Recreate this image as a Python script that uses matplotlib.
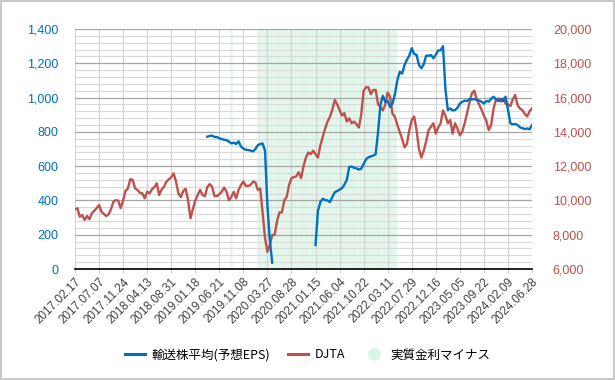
import numpy as np
import matplotlib
matplotlib.use("Agg")
import matplotlib.pyplot as plt
from matplotlib.lines import Line2D
from matplotlib.patches import Rectangle

# ---------------- data ----------------
tick_labels = ["2017.02.17", "2017.07.07", "2017.11.24", "2018.04.13", "2018.08.31",
               "2019.01.18", "2019.06.21", "2019.11.08", "2020.03.27", "2020.08.28",
               "2021.01.15", "2021.06.04", "2021.10.22", "2022.03.11", "2022.07.29",
               "2022.12.16", "2023.05.05", "2023.09.22", "2024.02.09", "2024.06.28"]
n_weeks = 381          # weekly observations (category axis)
tick_every = 20        # one label every 20 weeks
sample_step = 2        # series values read every 2 weeks

# DJTA (right axis), one value every 2 weeks from week 0 to week 380
djta = [9480, 9540, 9050, 9150, 8860, 9090, 8900, 9250, 9400, 9550,
        9730, 9340, 9210, 9090, 9200, 9500, 9930, 10020, 9980, 9550,
        10000, 10550, 10700, 11250, 11190, 10700, 10610, 10450, 10410, 10120,
        10510, 10410, 10650, 10780, 11000, 10320, 10630, 10800, 11090, 11230,
        11350, 11580, 11100, 10400, 10200, 10550, 10680, 10020, 8960, 9500,
        10000, 10300, 10610, 10320, 10250, 10780, 10950, 10800, 10250, 10250,
        10370, 10500, 10750, 10510, 10000, 10200, 10500, 10120, 10610, 10900,
        11100, 10850, 10850, 10900, 11100, 11050, 10610, 10700, 9300, 7800,
        7000, 7400, 7980, 8000, 8800, 9300, 9300, 10000, 10200, 10900,
        11300, 11360, 11400, 11650, 11300, 12000, 12500, 12800, 12700, 12900,
        12700, 12500, 13200, 13700, 14200, 14600, 14880, 15300, 15860, 15600,
        15270, 14950, 15100, 14600, 14790, 14500, 14600, 14450, 14250, 15000,
        16400, 16600, 16600, 16200, 16440, 16450, 15600, 15450, 15250, 15600,
        16300, 16050, 15050, 14880, 14400, 14000, 13600, 13100, 13300, 14100,
        14690, 14900, 14110, 13000, 12500, 12900, 13450, 14100, 14300, 14500,
        13900, 14250, 14500, 15250, 14950, 14500, 14690, 13900, 14500, 14200,
        13800, 14000, 14500, 15080, 15700, 16250, 16400, 15900, 15600, 15300,
        14950, 14650, 14100, 14400, 15350, 15860, 15950, 15760, 15950, 15650,
        15600, 15500, 15900, 16150, 15570, 15350, 15270, 15050, 14900, 15200,
        15370]

# 輸送株平均(予想EPS) (left axis), every 2 weeks
eps_part1_start = 110   # first week with data
eps_part1 = [772, 776, 778, 770, 770, 762, 758, 754, 752, 743,
             733, 737, 729, 745, 715, 702, 696, 694, 691, 686,
             700, 722, 729, 732, 690, 370, 169, 37]
eps_part2_start = 200
eps_part2 = [140, 340, 390, 410, 402, 400, 390, 420, 448, 455,
             463, 472, 492, 520, 595, 598, 590, 587, 580, 585,
             612, 640, 652, 657, 662, 670, 800, 960, 1010, 975,
             980, 945, 965, 1020, 1100, 1150, 1140, 1190, 1220, 1245,
             1288, 1255, 1249, 1190, 1171, 1195, 1245, 1243, 1248, 1229,
             1250, 1275, 1275, 1300, 1050, 927, 937, 925, 927, 940,
             965, 975, 982, 980, 992, 988, 992, 986, 983, 976,
             965, 980, 976, 992, 1005, 990, 980, 992, 980, 1005,
             930, 850, 844, 846, 840, 826, 822, 816, 820, 815,
             840]

# 実質金利マイナス periods (week index ranges, inclusive)
negative_real_rate_periods = [(129, 130), (152, 266)]

# ---------------- style ----------------
blue = "#0070C0"
red = "#C0504D"
green = "#d9f5e5"
plt.rcParams["font.family"] = ["Liberation Sans", "Noto Sans CJK JP", "DejaVu Sans"]

fig = plt.figure(figsize=(6.15, 3.80), dpi=100)
ax = fig.add_axes([75 / 615, 1 - 269 / 380, (532 - 75) / 615, (269 - 29) / 380])
ax2 = ax.twinx()

# shading bars (full height of the left axis)
for s, e in negative_real_rate_periods:
    wk = np.arange(s, e + 1)
    ax.bar(wk, np.full(len(wk), 1400), width=1.0, bottom=0, color=green,
           edgecolor="#e9f9ef", linewidth=0.4, zorder=0.1)

# grid
ax.set_ylim(0, 1400)
ax.set_yticks(np.arange(0, 1401, 200))
ax.set_yticks(np.arange(0, 1401, 40), minor=True)
ax.grid(axis="y", which="minor", color="#d9d9d9", linewidth=0.8, zorder=0.5)
ax.grid(axis="y", which="major", color="#a6a6a6", linewidth=0.9, zorder=0.5)
ax.grid(axis="x", which="major", color="#d0d0d0", linewidth=0.8, zorder=0.5)
ax.set_axisbelow(True)

x_djta = np.arange(0, n_weeks, sample_step)
x_e1 = eps_part1_start + np.arange(len(eps_part1)) * sample_step
x_e2 = eps_part2_start + np.arange(len(eps_part2)) * sample_step

# right axis scale
ax2.set_ylim(6000, 20000)
ax2.set_yticks(np.arange(6000, 20001, 2000))
ax2.set_yticklabels([f"{v:,}" for v in range(6000, 20001, 2000)])

# DJTA drawn on the left axes (same scale mapping as right axis) so the blue line sits above it
ax.set_zorder(ax2.get_zorder() + 1)
ax.patch.set_visible(False)
djta_on_left = (np.array(djta) - 6000) * 1400 / (20000 - 6000)
ax.plot(x_djta, djta_on_left, color=red, linewidth=1.7, zorder=3)
ax.plot(x_e1, eps_part1, color=blue, linewidth=1.7, zorder=4)
ax.plot(x_e2, eps_part2, color=blue, linewidth=1.7, zorder=4)

ax.set_xlim(0, n_weeks - 1)
ax.set_xticks(np.arange(0, n_weeks, tick_every))
ax.set_xticklabels(tick_labels, rotation=45, ha="right", rotation_mode="anchor",
                   fontsize=8.5, color="#404040")
ax.set_yticklabels([f"{v:,}" for v in range(0, 1401, 200)])

for a in (ax, ax2):
    for sp in a.spines.values():
        sp.set_visible(False)
ax.spines["bottom"].set_visible(True)
ax.spines["bottom"].set_color("black")
ax.spines["bottom"].set_linewidth(1.2)

ax.tick_params(axis="y", which="both", length=0, labelsize=9, labelcolor=blue, pad=12)
ax.tick_params(axis="x", length=3, color="#d0d0d0", pad=2)
ax2.tick_params(axis="y", length=0, labelsize=9, labelcolor=red, pad=15)

handles = [Line2D([0], [0], color=blue, linewidth=2.2),
           Line2D([0], [0], color=red, linewidth=2.2),
           Line2D([0], [0], marker="o", linestyle="none", markersize=8,
                  markerfacecolor=green, markeredgecolor=green)]
labels = ["輸送株平均(予想EPS)", "DJTA", "実質金利マイナス"]
fig.legend(handles, labels, loc="center", bbox_to_anchor=(0.5, 1 - 355 / 380),
           ncol=3, frameon=False, handlelength=1.6,
           columnspacing=1.5, handletextpad=0.5,
           prop={"family": ["Noto Sans CJK JP", "DejaVu Sans"], "size": 9})

fig.patches.append(Rectangle((0.002, 0.003), 0.996, 0.994, transform=fig.transFigure,
                             fill=False, edgecolor="#bfbfbf", linewidth=1.2))

fig.savefig("out.png", dpi=100)
